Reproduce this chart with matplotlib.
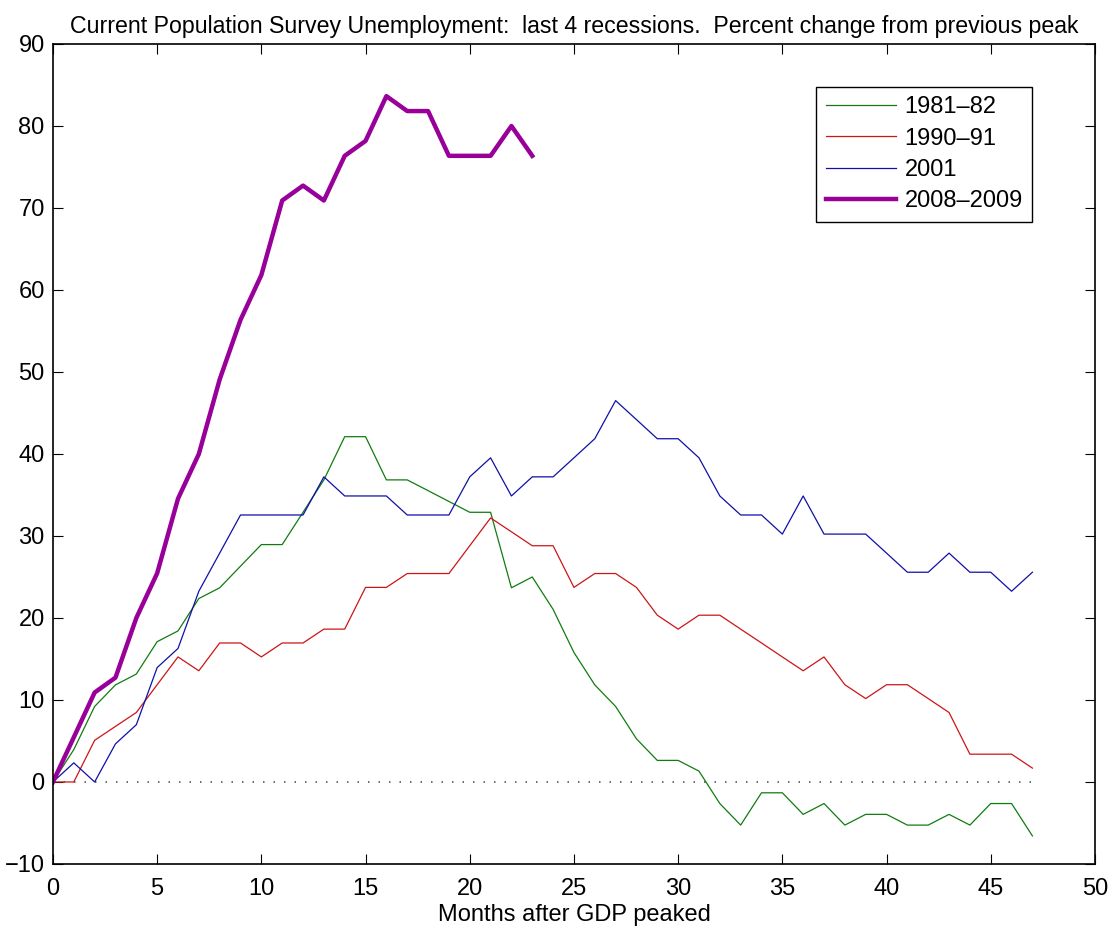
import numpy as np
import matplotlib
matplotlib.use('Agg')
import matplotlib.pyplot as plt

plt.rcParams['font.family'] = ['Liberation Sans', 'DejaVu Sans']

# percent change in unemployment rate from value at GDP peak
r1981 = [0, 3.95, 9.21, 11.84, 13.16, 17.11, 18.42, 22.37, 23.68, 26.32,
         28.95, 28.95, 32.89, 36.84, 42.11, 42.11, 36.84, 36.84, 35.53, 34.21,
         32.89, 32.89, 23.68, 25.0, 21.05, 15.79, 11.84, 9.21, 5.26, 2.63,
         2.63, 1.32, -2.63, -5.26, -1.32, -1.32, -3.95, -2.63, -5.26, -3.95,
         -3.95, -5.26, -5.26, -3.95, -5.26, -2.63, -2.63, -6.58]
r1990 = [0, 0, 5.08, 6.78, 8.47, 11.86, 15.25, 13.56, 16.95, 16.95,
         15.25, 16.95, 16.95, 18.64, 18.64, 23.73, 23.73, 25.42, 25.42, 25.42,
         28.81, 32.2, 30.51, 28.81, 28.81, 23.73, 25.42, 25.42, 23.73, 20.34,
         18.64, 20.34, 20.34, 18.64, 16.95, 15.25, 13.56, 15.25, 11.86, 10.17,
         11.86, 11.86, 10.17, 8.47, 3.39, 3.39, 3.39, 1.69]
r2001 = [0, 2.33, 0, 4.65, 6.98, 13.95, 16.28, 23.26, 27.91, 32.56,
         32.56, 32.56, 32.56, 37.21, 34.88, 34.88, 34.88, 32.56, 32.56, 32.56,
         37.21, 39.53, 34.88, 37.21, 37.21, 39.53, 41.86, 46.51, 44.19, 41.86,
         41.86, 39.53, 34.88, 32.56, 32.56, 30.23, 34.88, 30.23, 30.23, 30.23,
         27.91, 25.58, 25.58, 27.91, 25.58, 25.58, 23.26, 25.58]
r2008 = [0, 5.45, 10.91, 12.73, 20.0, 25.45, 34.55, 40.0, 49.09, 56.36,
         61.82, 70.91, 72.73, 70.91, 76.36, 78.18, 83.64, 81.82, 81.82, 76.36,
         76.36, 76.36, 80.0, 76.36]

fig = plt.figure(figsize=(11.15, 9.3), dpi=100)
ax = fig.add_axes([0.0475, 0.071, 0.9345, 0.8817])

months = np.arange(len(r1981))
ax.plot(months, np.zeros(len(months)), color='#555555', lw=1.2,
        dashes=[0.9, 5.4])
ax.plot(months, r1981, color='#107c10', lw=0.9, label='1981\u201382')
ax.plot(np.arange(len(r1990)), r1990, color='#cc1515', lw=0.9, label='1990\u201391')
ax.plot(np.arange(len(r2001)), r2001, color='#1010a8', lw=0.9, label='2001')
ax.plot(np.arange(len(r2008)), r2008, color='#990099', lw=3.2, label='2008\u20132009')

ax.set_xlim(0, 50)
ax.set_ylim(-10, 90)
ax.set_xticks(np.arange(0, 51, 5))
ax.set_yticks(np.arange(-10, 91, 10))
ax.tick_params(direction='in', length=7, width=0.8, top=True, right=True,
               labelsize=17)
ax.tick_params(axis='x', pad=10)
ax.tick_params(axis='y', pad=6)
for s in ax.spines.values():
    s.set_linewidth(1.2)

ax.set_xlabel('Months after GDP peaked', fontsize=17, labelpad=3)
ax.set_title('Current Population Survey Unemployment:  last 4 recessions.  '
             'Percent change from previous peak', fontsize=16.7, pad=8)

leg = ax.legend(loc='upper right', bbox_to_anchor=(0.94, 0.948),
                borderaxespad=0, fontsize=17, fancybox=False,
                edgecolor='black', framealpha=1, handlelength=3.0,
                handletextpad=0.35, borderpad=0.4, labelspacing=0.4)
leg.get_frame().set_linewidth(1.0)

fig.savefig('out.png', dpi=100)
